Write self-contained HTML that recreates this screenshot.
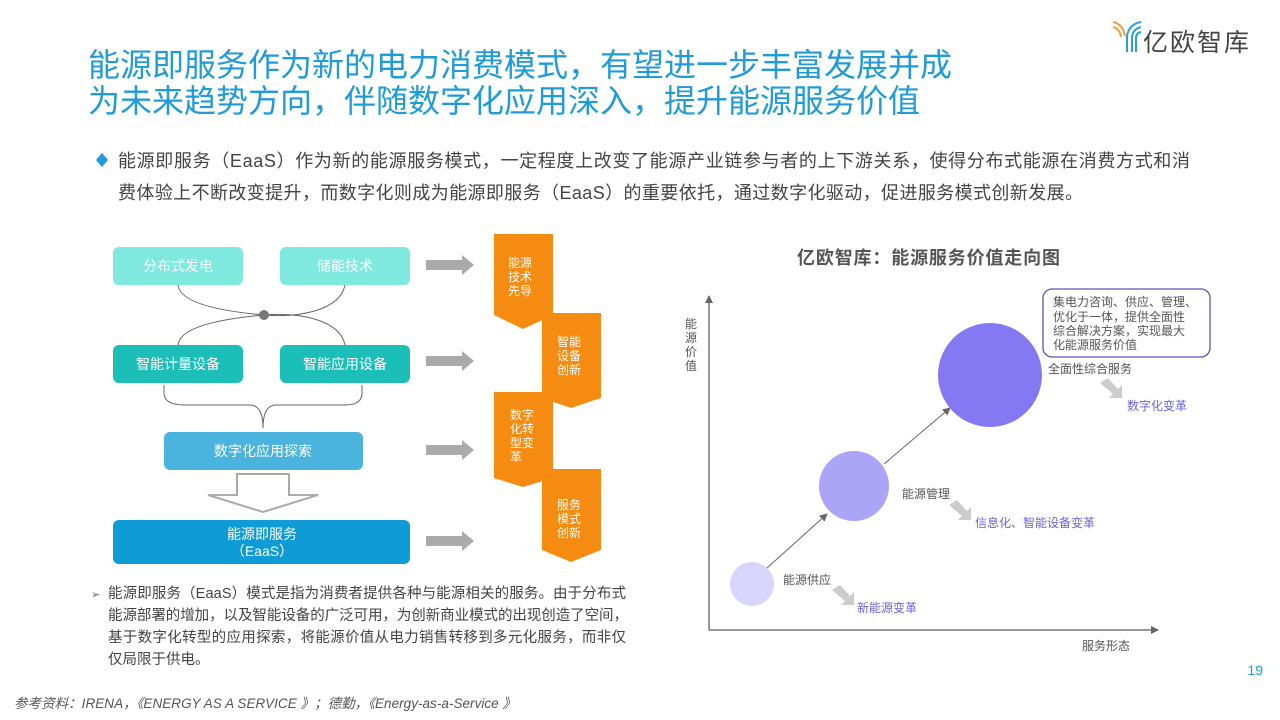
<!DOCTYPE html>
<html><head><meta charset="utf-8"><style>
html,body{margin:0;padding:0;background:#fff;}
svg{display:block;font-family:"Liberation Sans","Noto Sans CJK SC",sans-serif;}
</style></head><body>
<svg width="1280" height="720" viewBox="0 0 1280 720" xmlns="http://www.w3.org/2000/svg">
<defs>
<marker id="ah" markerWidth="8" markerHeight="8" refX="7" refY="4" orient="auto" markerUnits="userSpaceOnUse"><path d="M0,0 L8,4 L0,8 z" fill="#666"/></marker>
</defs>
<!-- logo -->
<g fill="none" stroke-width="2">
<path d="M1113,22 q10,2 12,14" stroke="#f39c3c"/><path d="M1113,27 q7,2 8,10" stroke="#f39c3c"/>
<path d="M1141,22 q-12,2 -14,14 v16" stroke="#2a9fd6"/><path d="M1141,27 q-8,2 -9,10 v15" stroke="#2a9fd6"/><path d="M1141,32 q-5,1 -5,6 v14" stroke="#2a9fd6"/>
</g>
<text x="1143" y="51" font-size="25" fill="#444" textLength="106">亿欧智库</text>
<!-- title -->
<text x="88" y="76" font-size="32" fill="#1f9bd7" textLength="864">能源即服务作为新的电力消费模式，有望进一步丰富发展并成</text>
<text x="88" y="112" font-size="32" fill="#1f9bd7" textLength="832">为未来趋势方向，伴随数字化应用深入，提升能源服务价值</text>
<path d="M96,160 l6,-7 l6,7 l-6,7 z" fill="#1f9bd7"/>
<text x="118" y="167" font-size="18" fill="#444" textLength="1072">能源即服务（EaaS）作为新的能源服务模式，一定程度上改变了能源产业链参与者的上下游关系，使得分布式能源在消费方式和消</text>
<text x="118" y="199" font-size="18" fill="#444" textLength="965">费体验上不断改变提升，而数字化则成为能源即服务（EaaS）的重要依托，通过数字化驱动，促进服务模式创新发展。</text>

<!-- left diagram -->
<g fill="none" stroke="#666" stroke-width="1">
<path d="M178,285 C180,305 230,312 264,315 C300,318 340,310 345,285"/>
<path d="M178,345 C180,325 230,318 264,315 C300,312 340,320 345,345"/>
<path d="M164,385 V393 Q164,405 185,405 H250 Q263,405 263,428 Q263,405 276,405 H345 Q362,405 362,393 V385"/>
</g>
<circle cx="264" cy="315" r="5" fill="#777"/>
<rect x="113" y="247" width="130" height="38" rx="6" fill="#7fe8df"/>
<rect x="280" y="247" width="130" height="38" rx="6" fill="#7fe8df"/>
<text x="178" y="271" font-size="14" fill="#fff" text-anchor="middle">分布式发电</text>
<text x="345" y="271" font-size="14" fill="#fff" text-anchor="middle">储能技术</text>
<rect x="113" y="345" width="130" height="38" rx="6" fill="#1bbfb8"/>
<rect x="280" y="345" width="130" height="38" rx="6" fill="#1bbfb8"/>
<text x="178" y="369" font-size="14" fill="#fff" text-anchor="middle">智能计量设备</text>
<text x="345" y="369" font-size="14" fill="#fff" text-anchor="middle">智能应用设备</text>
<rect x="164" y="432" width="199" height="38" rx="6" fill="#4bb4de"/>
<text x="263" y="456" font-size="14" fill="#fff" text-anchor="middle">数字化应用探索</text>
<path d="M237,474 H289 V495 H318 L263,512 L208,495 H237 Z" fill="#fff" stroke="#aaa" stroke-width="2"/>
<rect x="113" y="520" width="297" height="44" rx="6" fill="#0e9bd6"/>
<text x="262" y="539" font-size="14" fill="#fff" text-anchor="middle">能源即服务</text>
<text x="262" y="556" font-size="14" fill="#fff" text-anchor="middle">（EaaS）</text>
<g fill="#aaa">
<path d="M426,260 H462 V255 L474,265 L462,275 V270 H426 Z"/>
<path d="M426,356 H462 V351 L474,361 L462,371 V366 H426 Z"/>
<path d="M426,445 H462 V440 L474,450 L462,460 V455 H426 Z"/>
<path d="M426,536 H462 V531 L474,541 L462,551 V546 H426 Z"/>
</g>
<g fill="#f68b12">
<path d="M494,234 H553 V315 L523,329 L494,315 Z"/>
<path d="M542,313 H601 V398 L571,408 L542,398 Z"/>
<path d="M494,392 H553 V478 L523,487 L494,478 Z"/>
<path d="M542,469 H601 V550 L571,562 L542,550 Z"/>
</g>
<g font-size="12" fill="#fff">
<text x="508" y="267">能源</text><text x="508" y="281">技术</text><text x="508" y="295">先导</text>
<text x="557" y="346">智能</text><text x="557" y="360">设备</text><text x="557" y="374">创新</text>
<text x="510" y="419">数字</text><text x="510" y="433">化转</text><text x="510" y="447">型变</text><text x="510" y="461">革</text>
<text x="557" y="509">服务</text><text x="557" y="523">模式</text><text x="557" y="537">创新</text>
</g>
<text x="91" y="598" font-size="11" fill="#666">➢</text>
<g font-size="14.5" fill="#444">
<text x="108" y="598" textLength="518">能源即服务（EaaS）模式是指为消费者提供各种与能源相关的服务。由于分布式</text>
<text x="108" y="620" textLength="520">能源部署的增加，以及智能设备的广泛可用，为创新商业模式的出现创造了空间，</text>
<text x="108" y="642" textLength="518">基于数字化转型的应用探索，将能源价值从电力销售转移到多元化服务，而非仅</text>
<text x="108" y="664">仅局限于供电。</text>
</g>
<text x="14" y="708" font-size="13.5" fill="#555" font-style="italic" textLength="502">参考资料：IRENA，《ENERGY AS A SERVICE 》；德勤，《Energy-as-a-Service 》</text>
<text x="1263" y="675" font-size="14" fill="#1f9bd7" text-anchor="end">19</text>

<!-- right chart -->
<text x="797" y="264" font-size="18" font-weight="bold" fill="#555" textLength="263">亿欧智库：能源服务价值走向图</text>
<line x1="709" y1="630" x2="709" y2="296" stroke="#777" stroke-width="1.5" marker-end="url(#ah)"/>
<line x1="709" y1="630" x2="1158" y2="630" stroke="#777" stroke-width="1.5" marker-end="url(#ah)"/>
<g font-size="12" fill="#555">
<text x="685" y="328">能</text><text x="685" y="342">源</text><text x="685" y="356">价</text><text x="685" y="370">值</text>
<text x="1082" y="650">服务形态</text>
</g>
<circle cx="752" cy="584" r="22" fill="#d8d4fa"/>
<circle cx="854" cy="486" r="35" fill="#aca4f6"/>
<circle cx="990" cy="375" r="52" fill="#8479f2"/>
<line x1="767" y1="568" x2="827" y2="514" stroke="#666" stroke-width="1" marker-end="url(#ah)"/>
<line x1="884" y1="464" x2="950" y2="408" stroke="#666" stroke-width="1" marker-end="url(#ah)"/>
<rect x="1043" y="289" width="167" height="68" rx="9" fill="#fff" stroke="#5a56b8" stroke-width="1.3"/>
<g font-size="12" fill="#555">
<text x="1053" y="306">集电力咨询、供应、管理、</text>
<text x="1053" y="321">优化于一体，提供全面性</text>
<text x="1053" y="335">综合解决方案，实现最大</text>
<text x="1053" y="349">化能源服务价值</text>
<text x="1048" y="373">全面性综合服务</text>
<text x="902" y="498">能源管理</text>
<text x="783" y="584">能源供应</text>
</g>
<g fill="#ccc">
<path d="M1100,383 L1108,378 L1118,389 L1122,385 L1122,398 L1109,398 L1113,394 Z"/>
<path d="M949,505 L957,500 L967,511 L971,507 L971,520 L958,520 L962,516 Z"/>
<path d="M832,590 L840,585 L850,596 L854,592 L854,605 L841,605 L845,601 Z"/>
</g>
<g font-size="12" fill="#6a63e0">
<text x="1127" y="410">数字化变革</text>
<text x="975" y="527">信息化、智能设备变革</text>
<text x="857" y="612">新能源变革</text>
</g>
</svg>
</body></html>
